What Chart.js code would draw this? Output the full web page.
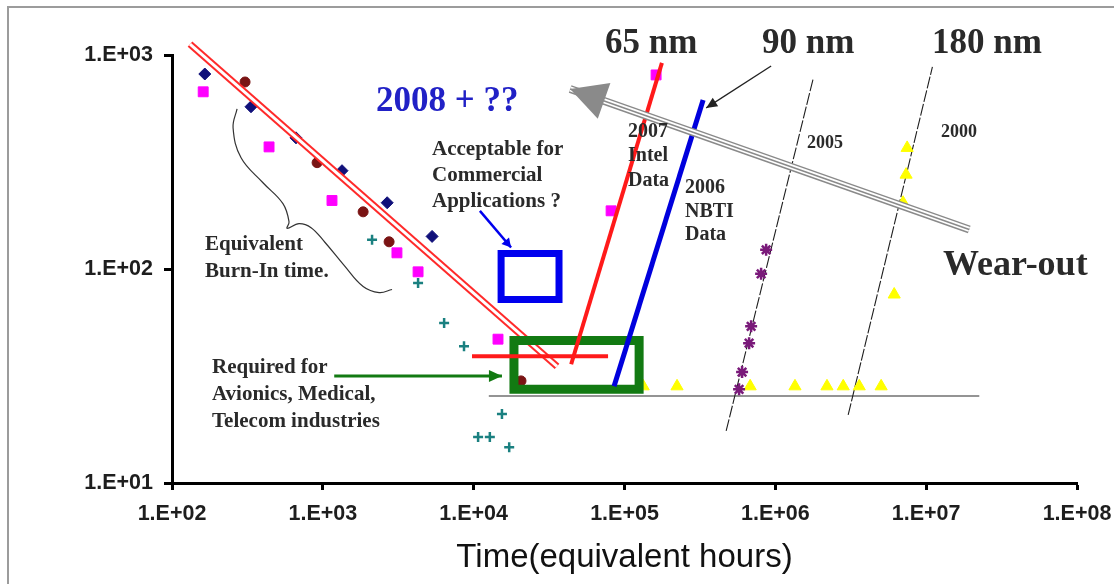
<!DOCTYPE html>
<html>
<head>
<meta charset="utf-8">
<script src="https://cdn.jsdelivr.net/npm/chart.js@4.4.1/dist/chart.umd.min.js"></script>
<style>
  html, body { margin: 0; padding: 0; background: #fff; }
  #wrap { position: relative; width: 1114px; height: 584px; }
</style>
</head>
<body>
<div id="wrap"><canvas id="chart"></canvas></div>
<script>
// axis ticks
const xTickValues = [1e2, 1e3, 1e4, 1e5, 1e6, 1e7, 1e8];
const xTickLabels = ['1.E+02', '1.E+03', '1.E+04', '1.E+05', '1.E+06', '1.E+07', '1.E+08'];
const yTickValues = [1e1, 1e2, 1e3];
const yTickLabels = ['1.E+01', '1.E+02', '1.E+03'];

// measured points (hours, failure rate)
const diamondX = [165, 334, 664, 1340, 2670, 5300];
const diamondY = [815, 573, 410, 288, 204, 142];
const circleX = [305, 916, 1850, 2750, 20600];
const circleY = [748, 314, 185, 134, 30];
const squareX = [161, 440, 1150, 3100, 4280, 14500, 81500, 162000];
const squareY = [673, 372, 209, 119, 97, 47, 187, 807];
const plusX = [2120, 4280, 6370, 8630, 15400, 10700, 12800, 17200];
const plusY = [137, 86, 56, 43.5, 21, 16.4, 16.4, 14.7];
const starX = [575000, 602000, 670000, 691000, 805000, 869000];
const starY = [27.4, 33, 45, 54, 95, 123];
const triangleX = [133000, 223000, 681000, 1.35e6, 2.2e6, 2.82e6, 3.6e6, 5.03e6, 6.14e6, 7.03e6, 7.36e6, 7.48e6];
const triangleY = [28.3, 28.3, 28.3, 28.3, 28.3, 28.3, 28.3, 28.3, 76, 204, 276, 368];

// trend lines and annotation shapes (end points)
const burnInX = [131.6, 35700];
const burnInY = [1125, 35.1];
const intelX = [44300, 177000];
const intelY = [35.9, 918];
const nbtiX = [85300, 332000];
const nbtiY = [28.3, 616];
const floorX = [9750, 77800];
const floorY = [39.1, 39.1];
const line2005X = [472000, 1.78e6];
const line2005Y = [17.5, 773];
const line2000X = [3.04e6, 1.1e7];
const line2000Y = [20.8, 880];
const baseX = [12600, 2.25e7];
const baseY = [25.5, 25.5];
const wearX = [1.93e7, 43600];
const wearY = [153, 694];
const nmArrowX = [938000, 348000];
const nmArrowY = [889, 566];
const okArrowX = [11000, 17700];
const okArrowY = [187, 126];
const reqArrowX = [1190, 15400];
const reqArrowY = [31.6, 31.6];
const blueBoxX = [15200, 36800];
const blueBoxY = [72, 118];
const greenBoxX = [18500, 125000];
const greenBoxY = [27.4, 46.3];
const braceX = [270, 254, 287, 401, 544, 597, 580, 695, 836, 1035, 1384, 1850, 2362, 2877];
const braceY = [560, 457, 331, 253, 202, 166, 155, 163, 156, 133, 104, 82.8, 77.6, 80.2];

// text notes
const SERIF = '"Liberation Serif", "Times New Roman", serif';
const INK = '#2a2a2a';
const notes = [
  { t: '65 nm', x: 605, y: 53, size: 35, color: INK },
  { t: '90 nm', x: 762, y: 53, size: 35, color: INK },
  { t: '180 nm', x: 932, y: 53, size: 35, color: INK },
  { t: '2008 + ??', x: 376, y: 111, size: 35, color: '#2121c6' },
  { t: 'Acceptable for', x: 432, y: 155, size: 21, color: INK },
  { t: 'Commercial', x: 432, y: 181, size: 21, color: INK },
  { t: 'Applications ?', x: 432, y: 207, size: 21, color: INK },
  { t: 'Equivalent', x: 205, y: 250, size: 21, color: INK },
  { t: 'Burn-In time.', x: 205, y: 277, size: 21, color: INK },
  { t: 'Required for', x: 212, y: 373, size: 21, color: INK },
  { t: 'Avionics, Medical,', x: 212, y: 400, size: 21, color: INK },
  { t: 'Telecom industries', x: 212, y: 427, size: 21, color: INK },
  { t: '2007', x: 628, y: 137, size: 20, color: INK },
  { t: 'Intel', x: 628, y: 161, size: 20, color: INK },
  { t: 'Data', x: 628, y: 186, size: 20, color: INK },
  { t: '2006', x: 685, y: 193, size: 20, color: INK },
  { t: 'NBTI', x: 685, y: 217, size: 20, color: INK },
  { t: 'Data', x: 685, y: 240, size: 20, color: INK },
  { t: '2005', x: 807, y: 148, size: 18, color: INK },
  { t: '2000', x: 941, y: 137, size: 18, color: INK },
  { t: 'Wear-out', x: 943, y: 275, size: 36, color: INK }
];

function pts(xs, ys) {
  return xs.map((x, i) => ({ x: x, y: ys[i] }));
}

// closed rectangle path from two corners
function box(xs, ys) {
  return pts([xs[0], xs[1], xs[1], xs[0], xs[0]], [ys[0], ys[0], ys[1], ys[1], ys[0]]);
}

function line(data, color, width, order, extra) {
  return Object.assign({
    data: data,
    showLine: true,
    pointRadius: 0,
    pointHoverRadius: 0,
    borderColor: color,
    backgroundColor: color,
    borderWidth: width,
    clip: false,
    order: order
  }, extra || {});
}

function marks(xs, ys, style, radius, fill, stroke, width, order) {
  return {
    data: pts(xs, ys),
    showLine: false,
    pointStyle: style,
    pointRadius: radius,
    backgroundColor: fill,
    borderColor: stroke,
    borderWidth: width,
    order: order
  };
}

// page frame
const framePlugin = {
  id: 'frame',
  beforeDraw(chart) {
    const c = chart.ctx;
    c.save();
    c.fillStyle = '#fff';
    c.fillRect(0, 0, chart.width, chart.height);
    c.strokeStyle = '#9c9c9c';
    c.lineWidth = 2;
    c.beginPath();
    c.moveTo(8, chart.height);
    c.lineTo(8, 7);
    c.lineTo(chart.width, 7);
    c.stroke();
    c.restore();
  }
};

// arrow heads + text
const notePlugin = {
  id: 'notes',
  afterDatasetsDraw(chart) {
    const c = chart.ctx;
    c.save();
    chart.data.datasets.forEach((ds, i) => {
      if (!ds.arrowHead) return;
      const p = chart.getDatasetMeta(i).data;
      const a = p[p.length - 2], b = p[p.length - 1];
      const ang = Math.atan2(b.y - a.y, b.x - a.x);
      const len = ds.arrowHead[0], half = ds.arrowHead[1];
      c.fillStyle = ds.borderColor;
      c.beginPath();
      c.moveTo(b.x, b.y);
      c.lineTo(b.x - len * Math.cos(ang) + half * Math.sin(ang), b.y - len * Math.sin(ang) - half * Math.cos(ang));
      c.lineTo(b.x - len * Math.cos(ang) - half * Math.sin(ang), b.y - len * Math.sin(ang) + half * Math.cos(ang));
      c.closePath();
      c.fill();
    });
    c.textAlign = 'left';
    c.textBaseline = 'alphabetic';
    notes.forEach(n => {
      c.font = 'bold ' + n.size + 'px ' + SERIF;
      c.fillStyle = n.color;
      c.fillText(n.t, n.x, n.y);
    });
    c.restore();
  }
};

const axisFont = { family: '"Liberation Sans", Arial, sans-serif', size: 21.5, weight: 'bold' };

const ctx = document.getElementById('chart').getContext('2d');
new Chart(ctx, {
  type: 'scatter',
  data: {
    datasets: [
      line(pts(baseX, baseY), '#707070', 1.5, 30),
      line(pts(line2005X, line2005Y), '#1e1e1e', 1.1, 29, { borderDash: [12, 2] }),
      line(pts(line2000X, line2000Y), '#1e1e1e', 1.1, 29, { borderDash: [12, 2] }),
      line(pts(braceX, braceY), '#333333', 1.2, 29, { tension: 0.4 }),
      marks(triangleX, triangleY, 'triangle', 7, '#ffff00', '#ffff00', 1, 20),
      marks(starX, starY, 'star', 6, '#7a1a7a', '#7a1a7a', 2.5, 19),
      marks(plusX, plusY, 'cross', 5, '#1a8080', '#1a8080', 2.5, 18),
      marks(squareX, squareY, 'rect', 7, '#ff00ff', '#ff00ff', 1, 17),
      marks(circleX, circleY, 'circle', 5, '#7a1414', '#7a1414', 1, 16),
      marks(diamondX, diamondY, 'rectRot', 6, '#10107a', '#10107a', 1, 15),
      line(pts(burnInX, burnInY), '#ff2a2a', 7, 12),
      line(pts(burnInX, burnInY), '#ffffff', 3, 11),
      line(box(blueBoxX, blueBoxY), '#0000ee', 7, 10, { borderJoinStyle: 'miter', borderCapStyle: 'square' }),
      line(box(greenBoxX, greenBoxY), '#127a12', 9, 10, { borderJoinStyle: 'miter', borderCapStyle: 'square' }),
      line(pts(floorX, floorY), '#ff1a1a', 4, 8),
      line(pts(intelX, intelY), '#ff1a1a', 4, 8),
      line(pts(nbtiX, nbtiY), '#0000dd', 5, 8),
      line(pts(reqArrowX, reqArrowY), '#127a12', 3, 7, { arrowHead: [13, 6] }),
      line(pts(okArrowX, okArrowY), '#0000ee', 2.5, 7, { arrowHead: [9, 5] }),
      line(pts(wearX, wearY), '#8a8a8a', 8, 5, { arrowHead: [36, 19] }),
      line(pts(wearX, wearY), '#ffffff', 5, 4),
      line(pts(wearX, wearY), '#8a8a8a', 1.5, 3),
      line(pts(nmArrowX, nmArrowY), '#222222', 1.3, 2, { arrowHead: [11, 5] })
    ]
  },
  options: {
    responsive: true,
    maintainAspectRatio: false,
    animation: false,
    events: [],
    layout: { padding: { left: 0, top: 55, right: 37, bottom: 0 } },
    plugins: {
      legend: { display: false },
      tooltip: { enabled: false },
      title: { display: false }
    },
    scales: {
      x: {
        type: 'logarithmic',
        min: 1e2,
        max: 1e8,
        afterFit: (s) => { s.height = 101; s.paddingLeft = 0; s.paddingRight = 0; },
        afterBuildTicks: (s) => { s.ticks = xTickValues.map(v => ({ value: v })); },
        border: { display: true, color: '#000', width: 3 },
        grid: { drawOnChartArea: false, drawTicks: true, tickLength: 7, tickWidth: 3, tickColor: '#000' },
        ticks: {
          autoSkip: false,
          maxRotation: 0,
          padding: 11,
          color: '#1e1e1e',
          font: axisFont,
          callback: (v, i) => xTickLabels[i]
        },
        title: {
          display: true,
          text: 'Time(equivalent hours)',
          color: '#111',
          font: { family: '"Liberation Sans", Arial, sans-serif', size: 33 },
          padding: { top: 0, bottom: 6 }
        }
      },
      y: {
        type: 'logarithmic',
        min: 1e1,
        max: 1e3,
        afterFit: (s) => { s.width = 172; s.paddingTop = 0; s.paddingBottom = 0; },
        afterBuildTicks: (s) => { s.ticks = yTickValues.map(v => ({ value: v })); },
        border: { display: true, color: '#000', width: 3 },
        grid: { drawOnChartArea: false, drawTicks: true, tickLength: 8, tickWidth: 3, tickColor: '#000' },
        ticks: {
          autoSkip: false,
          padding: 11,
          color: '#1e1e1e',
          font: axisFont,
          callback: (v, i) => yTickLabels[i]
        }
      }
    }
  },
  plugins: [framePlugin, notePlugin]
});
</script>
</body>
</html>
